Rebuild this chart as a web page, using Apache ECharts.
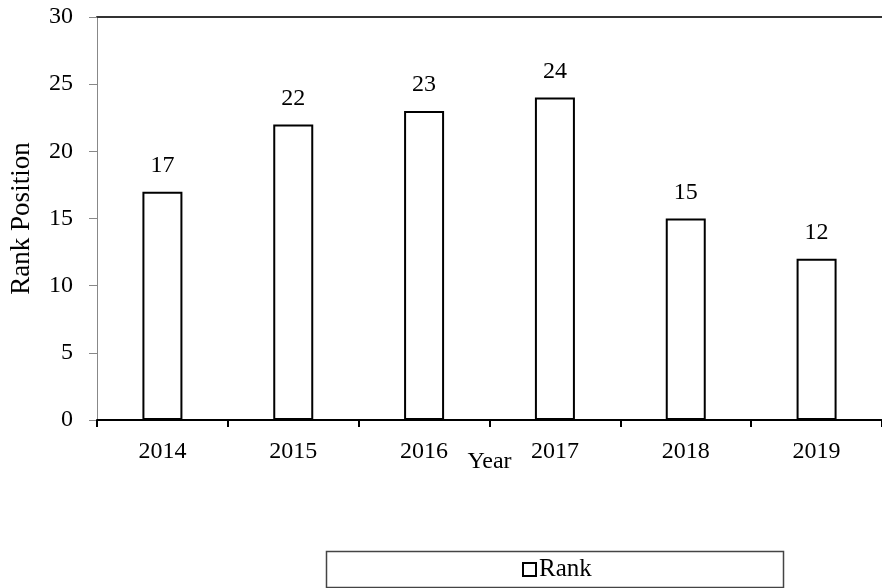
<!DOCTYPE html>
<html>
<head>
<meta charset="utf-8">
<script src="https://cdn.jsdelivr.net/npm/echarts@6/dist/echarts.min.js"></script>
<style>html,body{margin:0;padding:0;background:#fff}#c{width:882px;height:588px}</style>
</head>
<body>
<div id="c"></div>
<script>
const years = ['2014', '2015', '2016', '2017', '2018', '2019'];
const rank = [17, 22, 23, 24, 15, 12];
const seriesName = 'Rank';
const yAxisTitle = 'Rank Position';
const xAxisTitle = 'Year';

const font = 'Liberation Serif, Times New Roman, serif';
const chart = echarts.init(document.getElementById('c'));
chart.setOption({
  backgroundColor: '#fff',
  animation: false,
  grid: { left: 96, top: 17, width: 789, height: 403 },
  legend: {
    data: [seriesName],
    left: 517, top: 552,
    itemWidth: 13, itemHeight: 13,
    icon: 'rect',
    itemGap: 4,
    itemStyle: { color: '#fff', borderColor: '#000', borderWidth: 2 },
    textStyle: { fontFamily: font, fontSize: 25, color: '#000', padding: [0, 0, 0, -2] }
  },
  graphic: [{
    type: 'rect', left: 324, top: 549,
    shape: { width: 457, height: 36 },
    style: { fill: 'none', stroke: '#444', lineWidth: 1.5 }, z: -1
  }],
  xAxis: [{
    type: 'category', data: years,
    name: xAxisTitle, nameLocation: 'middle', nameGap: 30, nameMoveOverlap: false,
    nameTextStyle: { fontFamily: font, fontSize: 24, color: '#000', verticalAlign: 'top', padding: [0, 0, 0, 0] },
    axisLine: { lineStyle: { color: '#000', width: 2 } },
    axisTick: { show: true, length: 7, lineStyle: { color: '#000', width: 2 } },
    axisLabel: { fontFamily: font, fontSize: 24, color: '#000', margin: 20 },
    splitLine: { show: false }
  }, {
    type: 'category', data: years, position: 'top',
    axisLine: { lineStyle: { color: '#333', width: 2 } },
    axisTick: { show: false }, axisLabel: { show: false }, splitLine: { show: false }
  }],
  yAxis: {
    type: 'value', min: 0, max: 30, interval: 5,
    name: yAxisTitle, nameLocation: 'middle', nameGap: 62, nameRotate: 90,
    nameTextStyle: { fontFamily: font, fontSize: 27, color: '#000' },
    axisLine: { show: true, lineStyle: { color: '#888', width: 1 } },
    axisTick: { show: true, length: 8, lineStyle: { color: '#888', width: 1 } },
    axisLabel: { fontFamily: font, fontSize: 24, color: '#000', margin: 24 },
    splitLine: { show: false }
  },
  series: [{
    name: seriesName, type: 'bar', data: rank, barWidth: 40,
    itemStyle: { color: '#fff', borderColor: '#000', borderWidth: 2 },
    label: { show: true, position: 'top', distance: 14, fontFamily: font, fontSize: 24, color: '#000' }
  }]
});
</script>
</body>
</html>
